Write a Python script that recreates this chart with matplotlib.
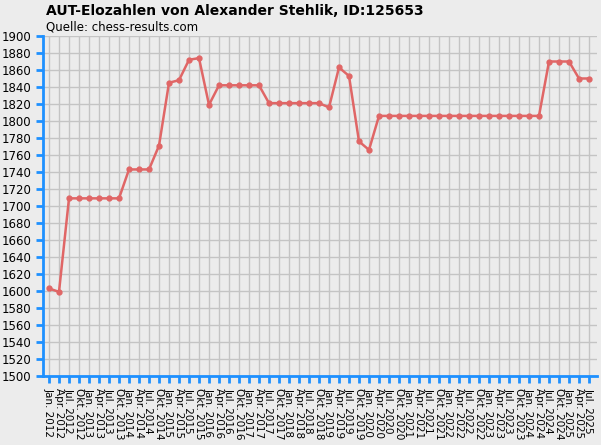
import matplotlib.pyplot as plt
import numpy as np

labels = []
mon = ["Jan.", "Apr.", "Jul.", "Okt."]
for y in range(2012, 2026):
    for m in mon:
        labels.append(m + " " + str(y))
labels = labels[:55]

elo = [1603, 1599, 1709, 1709, 1709, 1709, 1709, 1709,
       1743, 1743, 1743, 1771, 1845, 1848, 1872, 1874,
       1819, 1842, 1842, 1842, 1842, 1842, 1821, 1821,
       1821, 1821, 1821, 1821, 1816, 1863, 1853, 1776,
       1766] + [1806] * 17 + [1870, 1870, 1870, 1850, 1850]

blue = "#1e90ff"
fig = plt.figure(figsize=(6.01, 4.45), dpi=100, facecolor="#ececec")
ax = fig.add_axes([43/601, 1-376/445, 554/601, 340/445], facecolor="#ececec")
x = np.arange(len(elo))
ax.plot(x, elo, color="#e06666", lw=1.8, marker="o", ms=3.5, zorder=3)
ax.set_ylim(1500, 1900)
ax.set_yticks(np.arange(1500, 1901, 20))
ax.set_xlim(-0.6, len(elo) - 0.2)
ax.set_xticks(x)
ax.set_xticklabels(labels, rotation=-90, fontsize=7.5)
ax.tick_params(axis="y", labelsize=8.5, colors=blue, labelcolor="black", length=5, width=2)
ax.tick_params(axis="x", colors=blue, labelcolor="black", length=5, width=2)
ax.grid(True, color="#c4c4c4", lw=1)
for s in ["top", "right"]:
    ax.spines[s].set_visible(False)
for s in ["left", "bottom"]:
    ax.spines[s].set_color(blue)
    ax.spines[s].set_linewidth(2)
fig.text(46/601, 1-11/445, "AUT-Elozahlen von Alexander Stehlik, ID:125653",
         fontsize=10, fontweight="bold", va="center")
fig.text(46/601, 1-27/445, "Quelle: chess-results.com", fontsize=8.5, va="center")
fig.savefig("out.png", dpi=100, facecolor=fig.get_facecolor())
